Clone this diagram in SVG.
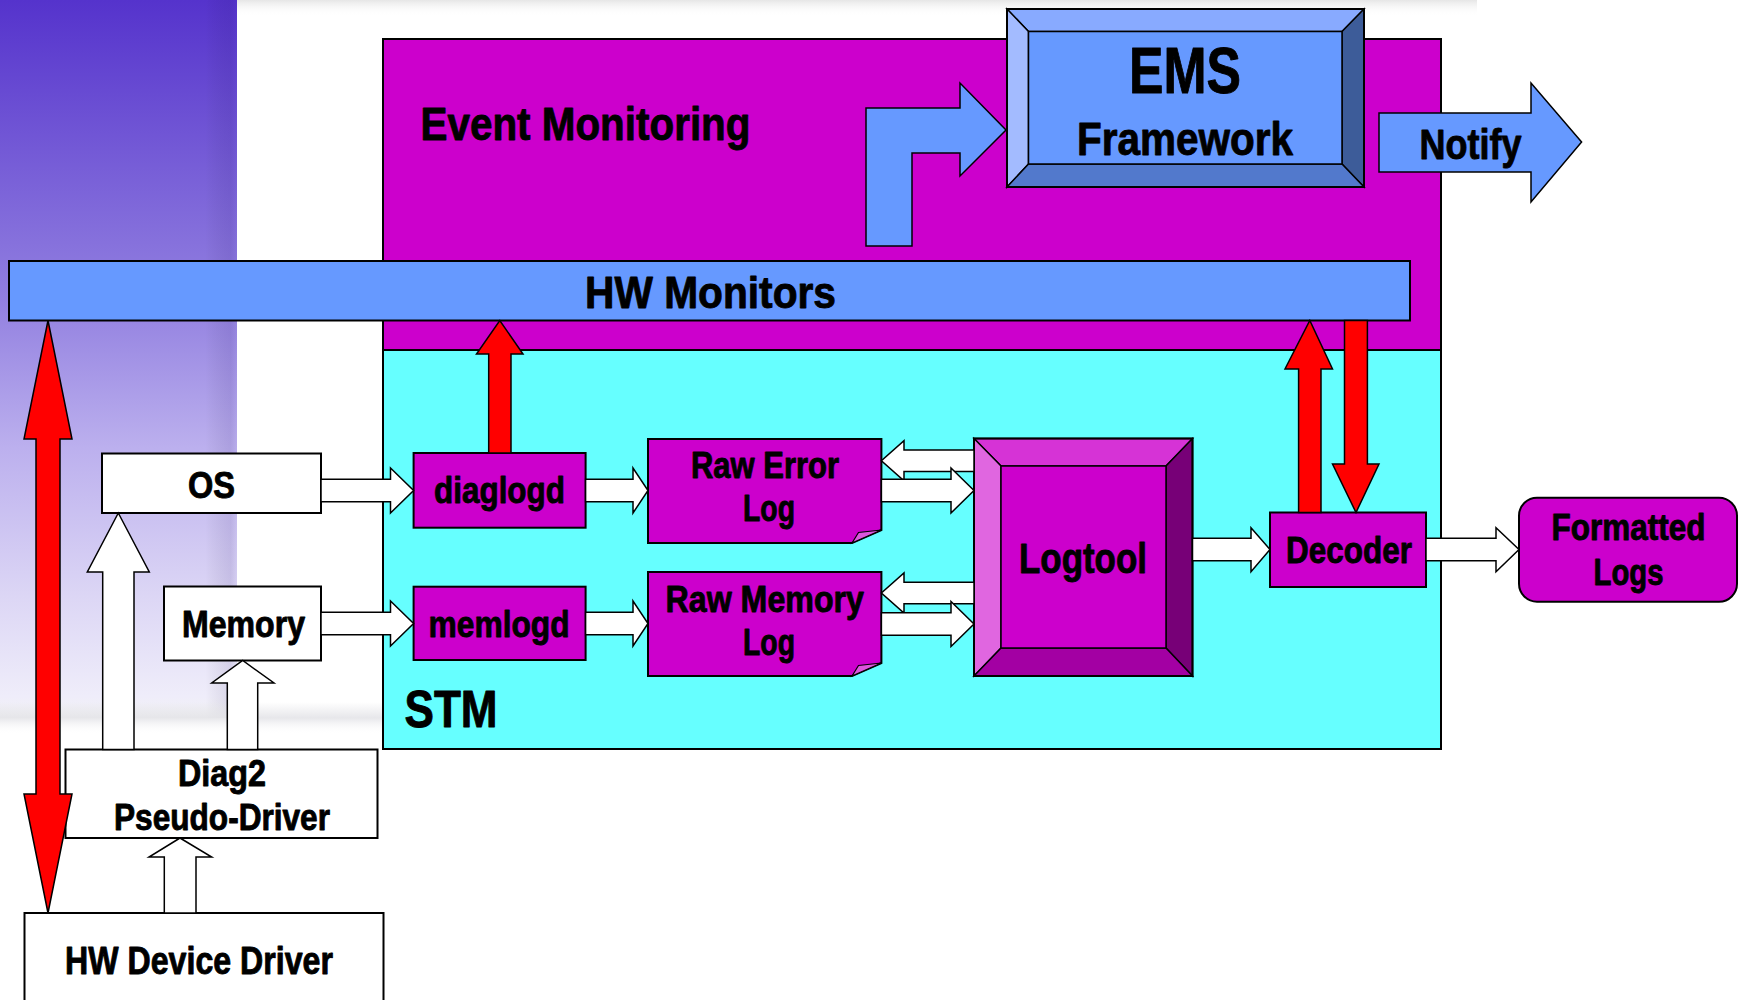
<svg xmlns="http://www.w3.org/2000/svg" width="1741" height="1000" viewBox="0 0 1741 1000">
<defs>
<linearGradient id="panelGrad" x1="0" y1="0" x2="0" y2="1">
<stop offset="0" stop-color="#5533cc"/>
<stop offset="0.42" stop-color="#9280e0"/>
<stop offset="0.625" stop-color="#bcb0ee"/>
<stop offset="0.83" stop-color="#dcd6f5"/>
<stop offset="0.97" stop-color="#efedfa"/>
<stop offset="1" stop-color="#f2f2f4"/>
</linearGradient>
<linearGradient id="edgeGrad" x1="0" y1="0" x2="1" y2="0">
<stop offset="0" stop-color="#000" stop-opacity="0"/>
<stop offset="0.8" stop-color="#201060" stop-opacity="0.1"/>
<stop offset="1" stop-color="#201060" stop-opacity="0.02"/>
</linearGradient>
<linearGradient id="topGrad" x1="0" y1="0" x2="0" y2="1">
<stop offset="0" stop-color="#e6e6e6"/>
<stop offset="1" stop-color="#ffffff" stop-opacity="0"/>
</linearGradient>
<linearGradient id="bandGrad" x1="0" y1="0" x2="0" y2="1">
<stop offset="0" stop-color="#e4e4e8" stop-opacity="0"/>
<stop offset="0.5" stop-color="#e4e4e8" stop-opacity="0.9"/>
<stop offset="1" stop-color="#ffffff" stop-opacity="0"/>
</linearGradient>
</defs>
<style>
.box{stroke:#000;stroke-width:2}
.mag{fill:#cc00cc}
.cyan{fill:#66ffff}
.blue{fill:#6699ff}
.white{fill:#ffffff}
.arr{stroke:#000;stroke-width:1.5;stroke-linejoin:miter}
.red{fill:#ff0000}
.bev{stroke:#000;stroke-width:1.5;stroke-linejoin:miter}
text{font-family:"Liberation Sans",Arial,"DejaVu Sans",sans-serif;font-weight:bold;fill:#000;stroke:#000;stroke-width:0.9;stroke-linejoin:round}
</style>

<g id="background">
<rect x="0" y="0" width="1741" height="1000" fill="#ffffff"/>
<rect x="237" y="0" width="1240" height="16" fill="url(#topGrad)"/>
<rect x="0" y="0" width="237" height="718" fill="url(#panelGrad)"/>
<rect x="205" y="0" width="32" height="718" fill="url(#edgeGrad)"/>
<rect x="0" y="702" width="383" height="32" fill="url(#bandGrad)"/>
</g>

<g id="event-monitoring">
<rect class="box mag" x="383" y="39" width="1058" height="311"/>
<text x="420.5" y="140" font-size="47" textLength="330" lengthAdjust="spacingAndGlyphs">Event Monitoring</text>
</g>

<g id="stm">
<rect class="box cyan" x="383" y="350" width="1058" height="399"/>
<text x="404.5" y="727" font-size="52" textLength="93" lengthAdjust="spacingAndGlyphs">STM</text>
</g>

<g id="hw-monitors">
<rect class="box blue" x="9" y="261" width="1401" height="59.5"/>
<text x="585" y="308" font-size="45" textLength="251" lengthAdjust="spacingAndGlyphs">HW Monitors</text>
</g>

<g id="ems-framework">
<rect x="1007" y="9" width="357" height="178" fill="#6699ff"/>
<polygon class="bev" fill="#88aaff" points="1007,9 1364,9 1342,31.5 1028.5,31.5"/>
<polygon class="bev" fill="#a3bbff" points="1007,9 1028.5,31.5 1028.5,164 1007,187"/>
<polygon class="bev" fill="#3d5c99" points="1364,9 1364,187 1342,164 1342,31.5"/>
<polygon class="bev" fill="#5279cc" points="1007,187 1028.5,164 1342,164 1364,187"/>
<rect class="bev" fill="#6699ff" x="1028.5" y="31.5" width="313.5" height="132.5"/>
<rect x="1007" y="9" width="357" height="178" fill="none" stroke="#000" stroke-width="2"/>
<text x="1129" y="93" font-size="64" textLength="112" lengthAdjust="spacingAndGlyphs">EMS</text>
<text x="1077" y="155" font-size="46" textLength="216" lengthAdjust="spacingAndGlyphs">Framework</text>
</g>

<g id="os">
<rect class="box white" x="102" y="453.5" width="219" height="59.5"/>
<text x="188" y="498" font-size="37" textLength="47" lengthAdjust="spacingAndGlyphs">OS</text>
</g>

<g id="memory">
<rect class="box white" x="164" y="586.5" width="157" height="74"/>
<text x="182" y="637" font-size="37" textLength="123" lengthAdjust="spacingAndGlyphs">Memory</text>
</g>

<g id="diag2">
<rect class="box white" x="65.5" y="749.5" width="312" height="88.5"/>
<text x="178" y="786" font-size="37" textLength="88" lengthAdjust="spacingAndGlyphs">Diag2</text>
<text x="114" y="830" font-size="37" textLength="216" lengthAdjust="spacingAndGlyphs">Pseudo-Driver</text>
</g>

<g id="hw-device-driver">
<rect class="box white" x="24.5" y="913" width="359" height="100"/>
<text x="65" y="974" font-size="38" textLength="268" lengthAdjust="spacingAndGlyphs">HW Device Driver</text>
</g>

<g id="diaglogd">
<rect class="box mag" x="413.6" y="453" width="172" height="74.7"/>
<text x="434" y="503" font-size="37" textLength="131" lengthAdjust="spacingAndGlyphs">diaglogd</text>
</g>

<g id="memlogd">
<rect class="box mag" x="413.6" y="586.7" width="172" height="73.3"/>
<text x="428.6" y="637" font-size="37" textLength="141" lengthAdjust="spacingAndGlyphs">memlogd</text>
</g>

<g id="raw-error-log">
<path class="box mag" d="M648,439 H881.4 V530 L852,543 H648 Z"/>
<polygon fill="#dd55dd" stroke="#000" stroke-width="1.2" points="852,543 858.5,532.5 881.4,530"/>
<text x="691" y="478" font-size="36" textLength="148" lengthAdjust="spacingAndGlyphs">Raw Error</text>
<text x="743" y="521" font-size="36" textLength="52" lengthAdjust="spacingAndGlyphs">Log</text>
</g>

<g id="raw-memory-log">
<path class="box mag" d="M648,572 H881.4 V663 L852,676 H648 Z"/>
<polygon fill="#dd55dd" stroke="#000" stroke-width="1.2" points="852,676 858.5,665.5 881.4,663"/>
<text x="665.5" y="611.5" font-size="36" textLength="198.5" lengthAdjust="spacingAndGlyphs">Raw Memory</text>
<text x="743" y="655" font-size="36" textLength="52" lengthAdjust="spacingAndGlyphs">Log</text>
</g>

<g id="logtool">
<rect x="974" y="438.5" width="218.5" height="237.5" fill="#cc00cc"/>
<polygon class="bev" fill="#d633d6" points="974,438.5 1192.5,438.5 1166,466 1001,466"/>
<polygon class="bev" fill="#e066e0" points="974,438.5 1001,466 1001,648 974,676"/>
<polygon class="bev" fill="#770077" points="1192.5,438.5 1192.5,676 1166,648 1166,466"/>
<polygon class="bev" fill="#a300a3" points="974,676 1001,648 1166,648 1192.5,676"/>
<rect class="bev" fill="#cc00cc" x="1001" y="466" width="165" height="182"/>
<rect x="974" y="438.5" width="218.5" height="237.5" fill="none" stroke="#000" stroke-width="2"/>
<text x="1019" y="573" font-size="43" textLength="128" lengthAdjust="spacingAndGlyphs">Logtool</text>
</g>

<g id="decoder">
<rect class="box mag" x="1270" y="512.5" width="156" height="74.5"/>
<text x="1286" y="563" font-size="37" textLength="126" lengthAdjust="spacingAndGlyphs">Decoder</text>
</g>

<g id="formatted-logs">
<rect class="box mag" x="1519" y="497.7" width="218" height="104" rx="18" ry="18"/>
<text x="1551.6" y="540" font-size="36" textLength="154" lengthAdjust="spacingAndGlyphs">Formatted</text>
<text x="1593.5" y="585" font-size="36" textLength="70" lengthAdjust="spacingAndGlyphs">Logs</text>
</g>

<g id="notify">
<polygon class="arr blue" points="1379,113 1531,113 1531,83 1581.6,142 1531,202 1531,172 1379,172"/>
<text x="1419.5" y="159" font-size="43" textLength="102" lengthAdjust="spacingAndGlyphs">Notify</text>
</g>

<g id="connectors">
<polygon class="arr blue" points="866,246 866,108 960,108 960,83 1006,130 960,176 960,153 912,153 912,246"/>

<polygon class="arr white" points="321,479.2 390.5,479.2 390.5,468 413.6,490.5 390.5,513 390.5,501.8 321,501.8"/>
<polygon class="arr white" points="321,612.2 390.5,612.2 390.5,601 413.6,623.5 390.5,646 390.5,634.8 321,634.8"/>
<polygon class="arr white" points="585.6,479.2 633,479.2 633,468 648,490.5 633,513 633,501.8 585.6,501.8"/>
<polygon class="arr white" points="585.6,612.2 633,612.2 633,601 648,623.5 633,646 633,634.8 585.6,634.8"/>

<polygon class="arr white" points="974,450 904,450 904,440.7 881.4,460.8 904,480.9 904,471.6 974,471.6"/>
<polygon class="arr white" points="881.4,479.2 951,479.2 951,468 974,490.5 951,513 951,501.8 881.4,501.8"/>
<polygon class="arr white" points="974,582.2 904,582.2 904,572.9 881.4,593 904,613.1 904,603.8 974,603.8"/>
<polygon class="arr white" points="881.4,612.7 951,612.7 951,601.5 974,624 951,646.5 951,635.3 881.4,635.3"/>

<polygon class="arr white" points="1192.5,538.3 1251,538.3 1251,527.7 1270,549.5 1251,571.7 1251,560.7 1192.5,560.7"/>
<polygon class="arr white" points="1426,538.3 1496,538.3 1496,527.7 1519,549.5 1496,571.7 1496,560.7 1426,560.7"/>

<polygon class="arr white" points="102.7,749.5 102.7,572 87.3,572 118.3,513 149.3,572 134,572 134,749.5"/>
<polygon class="arr white" points="227.3,749.5 227.3,683 211.7,683 242.7,660.5 274,683 257.7,683 257.7,749.5"/>
<polygon class="arr white" points="164.3,913 164.3,857 149,857 180,838 211.7,857 196,857 196,913"/>

<polygon class="arr red" points="488.7,453 488.7,354 476.5,354 499.8,320.5 523,354 511,354 511,453"/>
<polygon class="arr red" points="1298.6,512.5 1298.6,369 1285,369 1309.8,320.5 1332.5,369 1321,369 1321,512.5"/>
<polygon class="arr red" points="1344.5,320.5 1367.4,320.5 1367.4,464 1379,464 1356,512.5 1332.5,464 1344.5,464"/>
<polygon class="arr red" points="48,320.5 72,439 60,439 60,794 72,794 48,913 24,794 36,794 36,439 24,439"/>
</g>
</svg>
